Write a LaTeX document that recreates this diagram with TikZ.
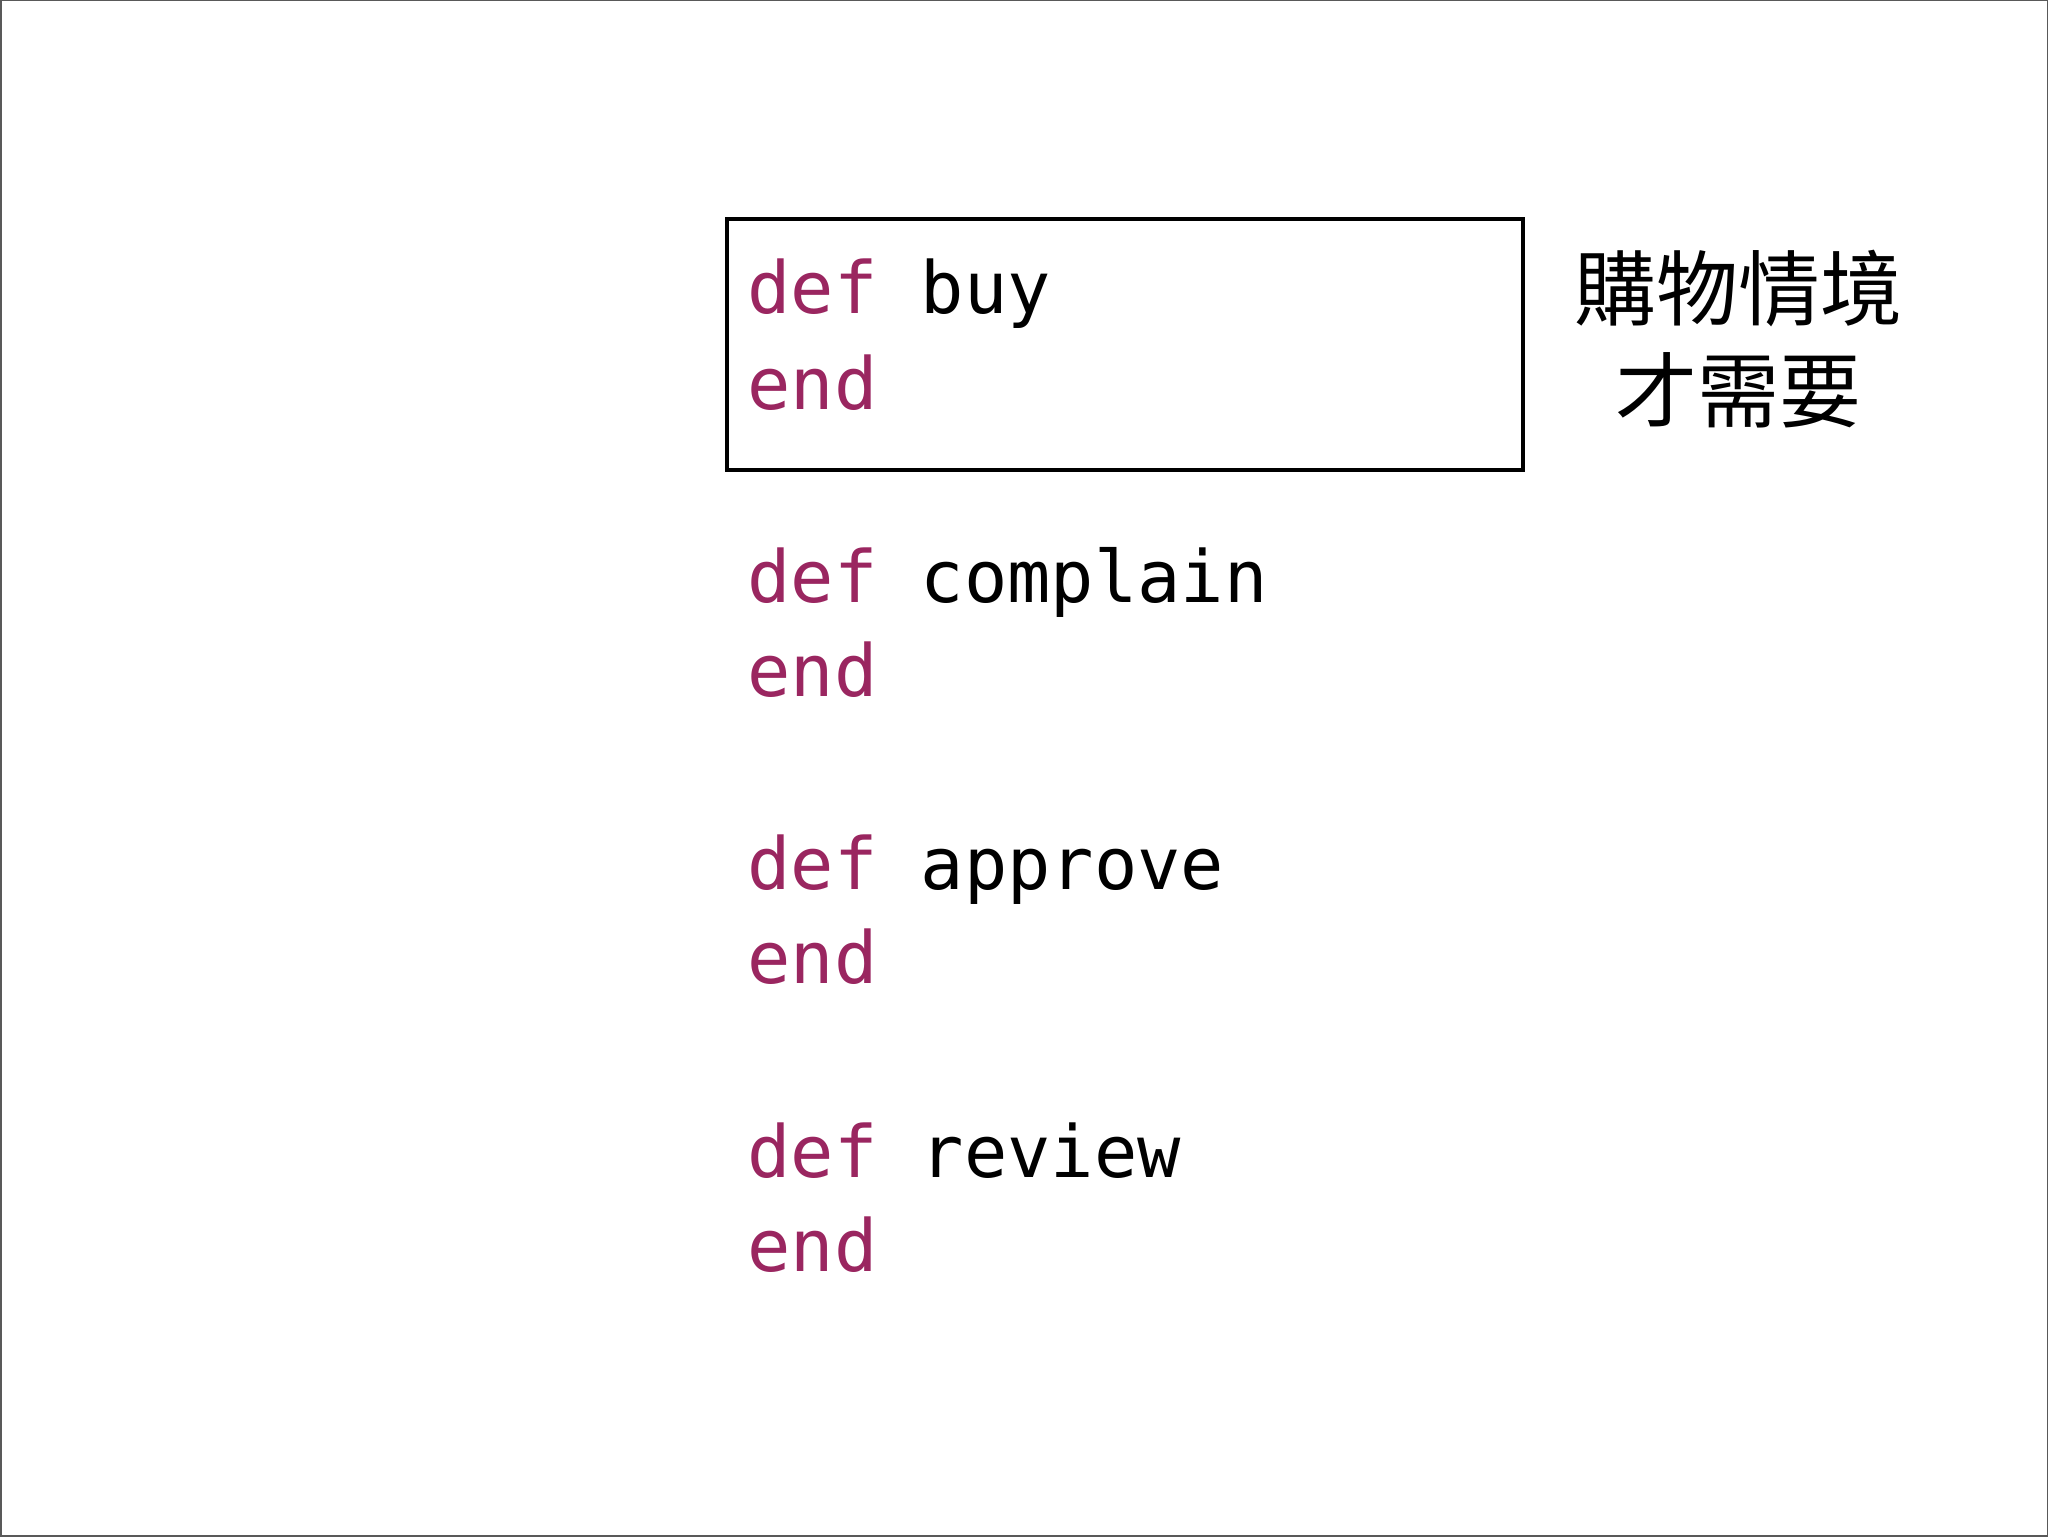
\documentclass[tikz,border=0pt]{standalone}
\usepackage{fontspec}
\setmonofont{DejaVu Sans Mono}
\newfontfamily\cjk{Noto Sans CJK TC}
\definecolor{kw}{RGB}{154,38,96}
\begin{document}
\begin{tikzpicture}[x=0.5pt,y=-0.5pt,
  code/.style={anchor=base west,inner sep=0pt,font=\ttfamily\fontsize{36pt}{36pt}\selectfont},
  note/.style={anchor=center,inner sep=0pt,font=\cjk\fontsize{41pt}{51pt}\selectfont,align=center}]
\useasboundingbox (0,0) rectangle (2048,1536);
\draw[gray!70!black,line width=1pt] (0.5,0.5) rectangle (2047.5,1535.5);
\node[draw,line width=2.2pt,minimum width=796*0.5pt,minimum height=251*0.5pt,inner sep=0pt,anchor=north west] (box) at (725,217) {};
\node[code] (d1) at (747,313) {\textcolor{kw}{def} buy};
\node[code] (e1) at (747,409) {\textcolor{kw}{end}};
\node[code] (d2) at (747,602) {\textcolor{kw}{def} complain};
\node[code] (e2) at (747,696) {\textcolor{kw}{end}};
\node[code] (d3) at (747,889) {\textcolor{kw}{def} approve};
\node[code] (e3) at (747,983) {\textcolor{kw}{end}};
\node[code] (d4) at (747,1177) {\textcolor{kw}{def} review};
\node[code] (e4) at (747,1271) {\textcolor{kw}{end}};
\node[note] (n) at (1738,339) {購物情境\\才需要};
\end{tikzpicture}
\end{document}
